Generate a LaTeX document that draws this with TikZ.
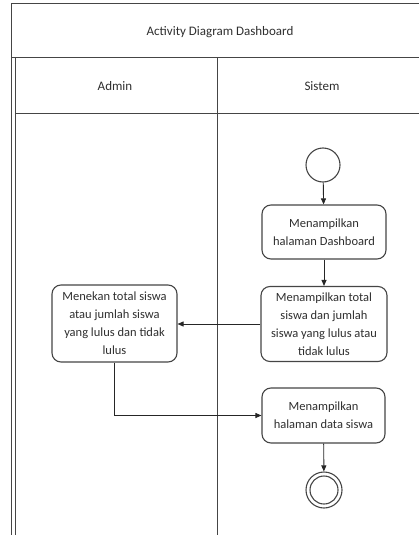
\documentclass[tikz,border=0pt]{standalone}
\usepackage{fontspec}
\setmainfont{Carlito}
\usetikzlibrary{arrows.meta}
\definecolor{lineg}{HTML}{454545}
\definecolor{textg}{HTML}{2E2E2E}
\tikzset{
  frame/.style={draw=lineg, line width=1pt},
  act/.style={draw=lineg, line width=1.1pt, rounded corners=9pt, align=center,
    text=textg, font=\fontsize{12.5}{18}\selectfont, inner sep=0pt},
  lbl/.style={text=textg, font=\fontsize{13}{15}\selectfont},
  flow/.style={draw=black!85, line width=0.9pt, -{Triangle[length=6pt,width=5pt]}},
  startnode/.style={circle, draw=lineg, line width=1.1pt, minimum size=34pt, inner sep=0pt},
  endouter/.style={circle, draw=lineg, line width=1.1pt, minimum size=36pt, inner sep=0pt},
  endinner/.style={circle, draw=lineg, line width=1.1pt, minimum size=28pt, inner sep=0pt}
}
\begin{document}
\begin{tikzpicture}[x=1pt, y=-1pt]
  \useasboundingbox (0,0) rectangle (419,535);
  % swimlane frame
  \draw[frame] (419,4) -- (11,4) -- (11,535);
  \draw[frame] (15,58) -- (15,535);
  \draw[frame] (11,58) -- (419,58);
  \draw[frame] (15,113) -- (419,113);
  \draw[frame] (217,58) -- (217,535);
  % headings
  \node[lbl] (title) at (220,32) {Activity Diagram Dashboard};
  \node[lbl] (admin) at (115,86) {Admin};
  \node[lbl] (sistem) at (322,86) {Sistem};
  % activities
  \node[startnode] (start) at (323,165) {};
  \node[act, minimum width=124pt, minimum height=54pt] (dash) at (324,232)
    {Menampilkan\\halaman Dashboard};
  \node[act, minimum width=126pt, minimum height=75pt] (total) at (324,324)
    {Menampilkan total\\siswa dan jumlah\\siswa yang lulus atau\\tidak lulus};
  \node[act, minimum width=125pt, minimum height=77pt] (tekan) at (114.5,323.5)
    {Menekan total siswa\\atau jumlah siswa\\yang lulus dan tidak\\lulus};
  \node[act, minimum width=123pt, minimum height=55pt] (data) at (323.5,415.5)
    {Menampilkan\\halaman data siswa};
  \node[endouter] (finish) at (324,490) {};
  \node[endinner] (finishin) at (324,490) {};
  % control flows
  \draw[flow] (start) -- (dash);
  \draw[flow] (dash) -- (total);
  \draw[flow] (total.west) -- (tekan.east |- total.west);
  \draw[flow] (tekan.south) |- (data.west);
  \draw[flow] (data) -- (finish);
\end{tikzpicture}
\end{document}
